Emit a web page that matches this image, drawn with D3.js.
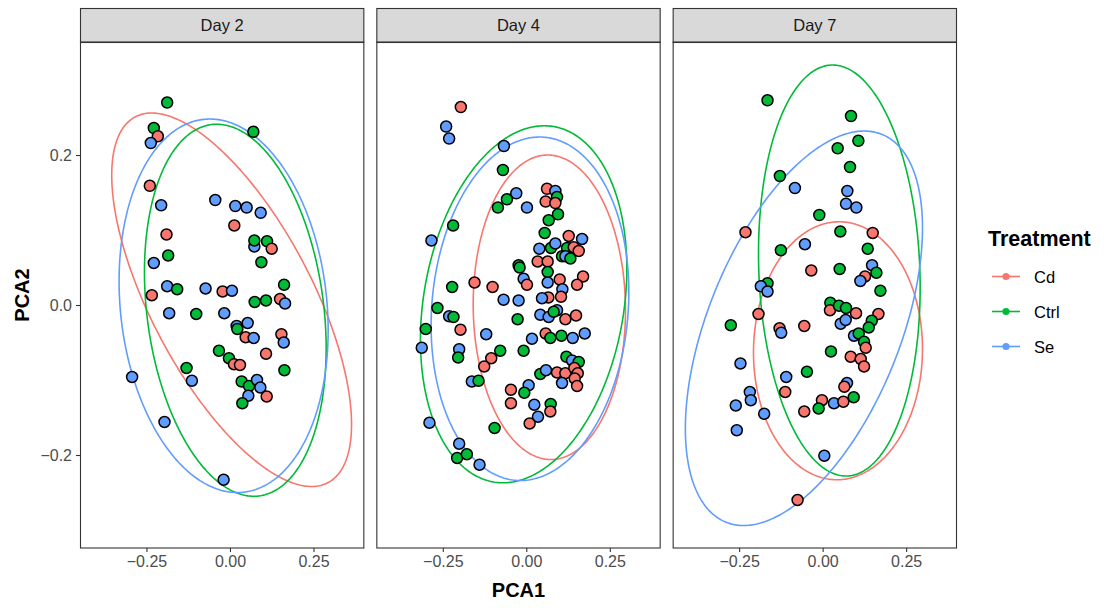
<!DOCTYPE html>
<html><head><meta charset="utf-8">
<script src="https://cdn.jsdelivr.net/npm/d3@7"></script>
<style>body{margin:0;background:#fff;} svg{display:block;font-family:"Liberation Sans",Arial,Helvetica,sans-serif;}</style>
</head><body><svg id="chart" width="1104" height="608"></svg>
<script>
// ---------------- data ----------------
const days = ["Day 2", "Day 4", "Day 7"];
const treatments = ["Cd", "Ctrl", "Se"];
const xTickValues = [-0.25, 0, 0.25];
const yTickValues = [-0.2, 0, 0.2];

const day2PC1 = [-0.188,-0.228,-0.216,-0.237,0.070,-0.240,-0.206,-0.044,0.016,0.050,0.092,0.013,-0.190,0.073,0.073,0.111,0.125,-0.185,-0.228,0.094,-0.188,-0.158,-0.073,-0.022,0.006,0.162,-0.234,0.074,0.108,0.150,0.165,-0.182,-0.101,-0.017,0.020,0.022,0.053,0.047,0.071,0.154,0.161,0.108,-0.033,-0.003,0.012,0.030,0.163,-0.130,-0.114,-0.293,0.035,0.057,0.081,0.091,0.110,0.055,0.037,-0.196,-0.019];
const day2PC2 = [0.270,0.236,0.225,0.216,0.231,0.159,0.133,0.140,0.132,0.130,0.123,0.106,0.094,0.078,0.086,0.085,0.075,0.066,0.056,0.057,0.025,0.021,0.022,0.018,0.019,0.027,0.013,0.004,0.006,0.008,0.002,-0.011,-0.012,-0.011,-0.028,-0.032,-0.024,-0.043,-0.044,-0.039,-0.050,-0.065,-0.061,-0.071,-0.079,-0.080,-0.087,-0.084,-0.101,-0.096,-0.102,-0.108,-0.100,-0.110,-0.122,-0.121,-0.131,-0.156,-0.233];
const day2Trt = ["Ctrl","Ctrl","Cd","Se","Ctrl","Cd","Se","Se","Se","Se","Se","Cd","Cd","Se","Ctrl","Ctrl","Cd","Ctrl","Se","Ctrl","Se","Ctrl","Se","Cd","Se","Ctrl","Cd","Ctrl","Ctrl","Cd","Se","Se","Ctrl","Se","Se","Ctrl","Se","Cd","Se","Cd","Se","Cd","Ctrl","Ctrl","Cd","Cd","Ctrl","Ctrl","Se","Se","Ctrl","Ctrl","Se","Se","Cd","Se","Ctrl","Se","Se"];

const day4PC1 = [-0.196,-0.240,-0.231,-0.067,-0.070,-0.030,-0.058,-0.085,0.002,0.062,0.087,0.092,0.058,0.087,0.095,0.067,-0.219,-0.284,0.055,0.127,0.167,0.039,0.074,0.087,0.122,0.142,0.157,0.107,0.117,0.132,-0.023,-0.020,0.034,0.064,0.064,-0.008,0.002,0.100,0.108,0.104,0.066,0.047,0.064,0.170,0.152,-0.155,-0.101,-0.068,-0.023,-0.222,-0.266,-0.231,-0.218,-0.026,0.042,0.067,0.092,0.082,0.117,0.149,-0.301,-0.197,-0.120,-0.313,-0.201,-0.204,0.017,0.058,0.072,0.105,0.139,0.175,-0.008,-0.078,-0.105,-0.126,-0.163,-0.143,0.042,0.059,0.092,0.117,0.120,0.137,0.157,0.144,0.154,0.107,0.145,0.152,0.007,-0.006,-0.046,-0.046,0.024,0.073,0.072,0.035,0.010,-0.290,-0.095,-0.201,-0.207,-0.178,-0.140];
const day4PC2 = [0.264,0.238,0.222,0.212,0.180,0.149,0.141,0.130,0.130,0.155,0.152,0.144,0.138,0.136,0.121,0.113,0.106,0.086,0.096,0.092,0.088,0.075,0.076,0.082,0.076,0.077,0.072,0.065,0.065,0.062,0.053,0.050,0.058,0.058,0.044,0.035,0.027,0.034,0.021,0.011,0.010,0.009,0.030,0.038,0.027,0.030,0.024,0.007,0.006,0.024,-0.004,-0.015,-0.016,-0.019,-0.013,-0.016,-0.007,-0.009,-0.019,-0.014,-0.032,-0.033,-0.039,-0.057,-0.059,-0.070,-0.045,-0.038,-0.044,-0.041,-0.044,-0.038,-0.061,-0.061,-0.071,-0.082,-0.102,-0.101,-0.092,-0.087,-0.090,-0.091,-0.069,-0.074,-0.076,-0.084,-0.091,-0.104,-0.098,-0.108,-0.107,-0.117,-0.113,-0.131,-0.133,-0.132,-0.142,-0.149,-0.158,-0.157,-0.164,-0.185,-0.204,-0.199,-0.213];
const day4Trt = ["Cd","Se","Se","Se","Ctrl","Se","Ctrl","Ctrl","Se","Cd","Se","Ctrl","Cd","Cd","Ctrl","Ctrl","Ctrl","Se","Ctrl","Cd","Se","Se","Ctrl","Se","Ctrl","Cd","Cd","Ctrl","Se","Ctrl","Ctrl","Ctrl","Cd","Cd","Ctrl","Se","Cd","Cd","Se","Cd","Cd","Se","Se","Cd","Cd","Cd","Cd","Se","Se","Ctrl","Ctrl","Se","Ctrl","Ctrl","Se","Se","Se","Ctrl","Cd","Cd","Ctrl","Cd","Se","Se","Se","Ctrl","Se","Cd","Ctrl","Ctrl","Se","Se","Ctrl","Ctrl","Cd","Cd","Se","Ctrl","Ctrl","Se","Cd","Cd","Ctrl","Se","Ctrl","Cd","Cd","Se","Cd","Cd","Se","Ctrl","Cd","Cd","Se","Ctrl","Cd","Se","Cd","Se","Ctrl","Se","Ctrl","Ctrl","Se"];

const day7PC1 = [-0.165,0.085,0.107,0.045,0.082,-0.128,-0.083,0.074,0.070,0.101,-0.010,-0.231,0.053,0.150,-0.053,-0.125,0.135,-0.034,0.051,0.148,0.161,0.127,0.113,0.173,-0.165,-0.185,-0.165,-0.192,0.023,0.022,0.049,0.070,0.100,0.167,0.147,0.054,0.069,0.138,-0.275,-0.129,-0.124,-0.055,0.094,0.108,0.124,0.129,0.025,0.084,0.114,0.124,-0.246,-0.047,-0.109,-0.218,-0.215,-0.112,0.073,0.065,-0.260,-0.175,-0.002,-0.012,0.034,0.062,0.093,-0.055,-0.257,0.005,-0.075];
const day7PC2 = [0.273,0.252,0.219,0.209,0.184,0.172,0.156,0.152,0.135,0.130,0.120,0.097,0.098,0.096,0.081,0.073,0.075,0.046,0.048,0.053,0.043,0.038,0.032,0.019,0.029,0.025,0.018,-0.012,0.003,-0.007,-0.001,-0.004,-0.011,-0.012,-0.021,-0.025,-0.020,-0.030,-0.027,-0.031,-0.037,-0.028,-0.041,-0.038,-0.049,-0.057,-0.062,-0.069,-0.072,-0.082,-0.078,-0.089,-0.096,-0.116,-0.127,-0.116,-0.104,-0.109,-0.134,-0.145,-0.127,-0.138,-0.131,-0.129,-0.123,-0.142,-0.167,-0.201,-0.260];
const day7Trt = ["Ctrl","Ctrl","Ctrl","Ctrl","Ctrl","Ctrl","Se","Se","Se","Se","Ctrl","Cd","Ctrl","Cd","Se","Ctrl","Ctrl","Cd","Ctrl","Se","Ctrl","Cd","Se","Ctrl","Ctrl","Se","Se","Cd","Ctrl","Cd","Ctrl","Ctrl","Cd","Cd","Ctrl","Se","Se","Ctrl","Ctrl","Cd","Se","Cd","Se","Ctrl","Ctrl","Cd","Ctrl","Cd","Cd","Cd","Se","Ctrl","Se","Se","Se","Cd","Se","Cd","Se","Se","Cd","Ctrl","Se","Cd","Ctrl","Cd","Se","Se","Cd"];

// 95% ellipses: centre, half-extent along PCA1 / PCA2, correlation
const ellipseDay = ["Day 2","Day 2","Day 2","Day 4","Day 4","Day 4","Day 7","Day 7","Day 7"];
const ellipseTrt = ["Cd","Ctrl","Se","Cd","Ctrl","Se","Cd","Ctrl","Se"];
const ellipseCx  = [0.005, 0.016,-0.019, 0.069,-0.008, 0.011, 0.046, 0.050,-0.056];
const ellipseCy  = [0.007,-0.007,-0.001,-0.003, 0.001,-0.005,-0.061, 0.046,-0.031];
const ellipseRx  = [0.359, 0.272, 0.313, 0.228, 0.309, 0.296, 0.253, 0.242, 0.355];
const ellipseRy  = [0.249, 0.248, 0.249, 0.203, 0.238, 0.229, 0.172, 0.274, 0.263];
const ellipseRho = [-0.667,-0.204,-0.131,-0.02, 0.20, 0.097, 0.014,-0.083, 0.509];

// ---------------- drawing ----------------
const dayData = {
  "Day 2": {x: day2PC1, y: day2PC2, t: day2Trt},
  "Day 4": {x: day4PC1, y: day4PC2, t: day4Trt},
  "Day 7": {x: day7PC1, y: day7PC2, t: day7Trt}
};
const color = d3.scaleOrdinal().domain(treatments).range(["#F8766D", "#00BA38", "#619CFF"]);

const svg = d3.select("#chart");
const plotLeft = 80, plotRight = 957, gap = 12;
const stripTop = 8, panelTop = 42, panelBottom = 548;
const pw = (plotRight - plotLeft - 2 * gap) / 3;

const x = d3.scaleLinear().domain([-0.449, 0.4023]).range([0, pw]);
const y = d3.scaleLinear().domain([-0.324, 0.3507]).range([panelBottom, panelTop]);

const defs = svg.append("defs");

days.forEach((day, i) => {
  const left = plotLeft + i * (pw + gap);
  const g = svg.append("g").attr("transform", `translate(${left},0)`);

  defs.append("clipPath").attr("id", "clip" + i)
    .append("rect").attr("x", 0).attr("y", panelTop).attr("width", pw).attr("height", panelBottom - panelTop);

  g.append("rect").attr("x", 0).attr("y", panelTop).attr("width", pw).attr("height", panelBottom - panelTop)
    .attr("fill", "#fff");

  // strip
  g.append("rect").attr("x", 0.5).attr("y", stripTop + 0.5).attr("width", pw - 1).attr("height", panelTop - stripTop)
    .attr("fill", "#D9D9D9").attr("stroke", "#333333").attr("stroke-width", 1.1);
  g.append("text").attr("x", pw / 2).attr("y", (stripTop + panelTop) / 2 + 6)
    .attr("text-anchor", "middle").attr("font-size", 16.5).attr("fill", "#1A1A1A").text(day);

  const inner = g.append("g").attr("clip-path", `url(#clip${i})`);

  // ellipses
  const line = d3.line().x(d => x(d[0])).y(d => y(d[1])).curve(d3.curveLinearClosed);
  ellipseDay.forEach((ed, k) => {
    if (ed !== day) return;
    const phi = Math.acos(ellipseRho[k]);
    const pts = d3.range(0, 360).map(a => {
      const t = a * Math.PI / 180;
      return [ellipseCx[k] + ellipseRx[k] * Math.cos(t), ellipseCy[k] + ellipseRy[k] * Math.cos(t + phi)];
    });
    inner.append("path").attr("d", line(pts)).attr("fill", "none")
      .attr("stroke", color(ellipseTrt[k])).attr("stroke-width", 1.6);
  });

  // points
  const dd = dayData[day];
  const pts = dd.x.map((v, k) => ({px: v, py: dd.y[k], t: dd.t[k]}));
  inner.selectAll("circle.pt").data(pts).join("circle").attr("class", "pt")
    .attr("cx", d => x(d.px)).attr("cy", d => y(d.py)).attr("r", 5.5)
    .attr("fill", d => color(d.t)).attr("stroke", "#000").attr("stroke-width", 1.5);

  // border
  g.append("rect").attr("x", 0.5).attr("y", panelTop).attr("width", pw - 1).attr("height", panelBottom - panelTop)
    .attr("fill", "none").attr("stroke", "#333333").attr("stroke-width", 1.1);

  // x axis
  const xa = g.append("g").attr("transform", `translate(0,${panelBottom})`)
    .call(d3.axisBottom(x).tickValues(xTickValues).tickFormat(d3.format(".2f")).tickSize(4).tickPadding(4));
  xa.select(".domain").remove();
  xa.selectAll(".tick line").attr("stroke", "#333333").attr("stroke-width", 1.1);
  xa.selectAll(".tick text").attr("font-size", 16).attr("fill", "#4D4D4D").attr("font-family", null);

  if (i === 0) {
    const ya = g.append("g").call(d3.axisLeft(y).tickValues(yTickValues).tickFormat(d3.format(".1f")).tickSize(4).tickPadding(4));
    ya.select(".domain").remove();
    ya.selectAll(".tick line").attr("stroke", "#333333").attr("stroke-width", 1.1);
    ya.selectAll(".tick text").attr("font-size", 16).attr("fill", "#4D4D4D").attr("font-family", null);
  }
});

// axis titles
svg.append("text").attr("x", (plotLeft + plotRight) / 2).attr("y", 597).attr("text-anchor", "middle")
  .attr("font-size", 20).attr("font-weight", "bold").attr("fill", "#000").text("PCA1");
svg.append("text").attr("transform", `translate(29,${(panelTop + panelBottom) / 2}) rotate(-90)`)
  .attr("text-anchor", "middle").attr("font-size", 20).attr("font-weight", "bold").attr("fill", "#000").text("PCA2");

// legend
const lg = svg.append("g").attr("transform", "translate(988,0)");
lg.append("text").attr("x", 0).attr("y", 246).attr("font-size", 21.5).attr("font-weight", "bold").attr("fill", "#000").text("Treatment");
treatments.forEach((t, k) => {
  const cy = 276.5 + k * 35;
  lg.append("line").attr("x1", 4).attr("x2", 32).attr("y1", cy).attr("y2", cy)
    .attr("stroke", color(t)).attr("stroke-width", 1.6);
  lg.append("circle").attr("cx", 18).attr("cy", cy).attr("r", 3.6).attr("fill", color(t));
  lg.append("text").attr("x", 46).attr("y", cy + 6).attr("font-size", 16.5).attr("fill", "#000").text(t);
});
</script>
</body></html>
